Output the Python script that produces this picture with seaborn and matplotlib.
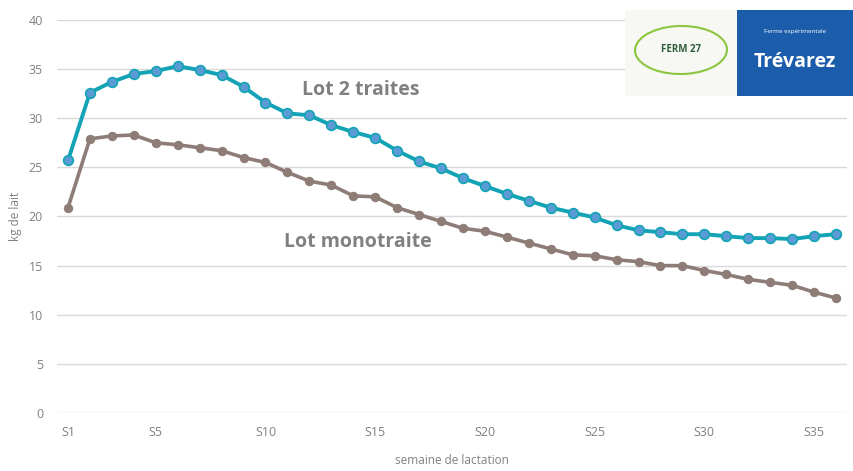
import numpy as np
import pandas as pd
import matplotlib
matplotlib.use('Agg')
import matplotlib.pyplot as plt
import seaborn as sns
from matplotlib.patches import Rectangle, Ellipse

# weekly milk yield (kg)
weeks = [f'S{i}' for i in range(1, 37)]
lot_2_traites = [25.7, 32.6, 33.7, 34.5, 34.8, 35.3, 34.9, 34.4, 33.2, 31.6,
                 30.5, 30.3, 29.3, 28.6, 28.0, 26.7, 25.6, 24.9, 23.9, 23.1,
                 22.3, 21.6, 20.9, 20.4, 19.9, 19.1, 18.6, 18.4, 18.2, 18.2,
                 18.0, 17.8, 17.8, 17.7, 18.0, 18.2]
lot_monotraite = [20.9, 27.9, 28.2, 28.3, 27.5, 27.3, 27.0, 26.7, 26.0, 25.5,
                  24.5, 23.6, 23.2, 22.1, 22.0, 20.9, 20.2, 19.5, 18.8, 18.5,
                  17.9, 17.3, 16.7, 16.1, 16.0, 15.6, 15.4, 15.0, 15.0, 14.5,
                  14.1, 13.6, 13.3, 13.0, 12.3, 11.7]
tick_weeks = ['S1', 'S5', 'S10', 'S15', 'S20', 'S25', 'S30', 'S35']

df = pd.DataFrame({'semaine': np.arange(1, 37),
                   'Lot 2 traites': lot_2_traites,
                   'Lot monotraite': lot_monotraite})

sns.set_style('white')
plt.rcParams['font.family'] = ['Open Sans', 'DejaVu Sans']

fig = plt.figure(figsize=(8.54, 4.71), dpi=100)
ax = fig.add_axes([57 / 854, 58 / 471, 790 / 854, 393 / 471])

teal = '#12A3B5'
brown = '#8E7C77'
grey = '#808080'

sns.lineplot(data=df, x='semaine', y='Lot monotraite', ax=ax, color=brown,
             linewidth=2.6, marker='o', markersize=6, markeredgecolor=brown,
             markerfacecolor=brown, zorder=3)
sns.lineplot(data=df, x='semaine', y='Lot 2 traites', ax=ax, color=teal,
             linewidth=2.8, marker='o', markersize=7, markeredgecolor=teal,
             markeredgewidth=1.2, markerfacecolor='#5B9BD5', zorder=4)

ax.set_xlim(0.5, 36.5)
ax.set_ylim(0, 40)
ax.set_yticks(range(0, 45, 5))
ax.set_xticks([weeks.index(w) + 1 for w in tick_weeks])
ax.set_xticklabels(tick_weeks)
ax.grid(axis='y', color='#D9D9D9', linewidth=1)
ax.set_axisbelow(True)
for s in ax.spines.values():
    s.set_visible(False)
ax.tick_params(axis='both', length=0, labelsize=9, labelcolor=grey)
ax.tick_params(axis='x', pad=9)
ax.tick_params(axis='y', pad=10)
ax.set_xlabel('semaine de lactation', fontsize=8.5, color=grey, labelpad=11)
ax.set_ylabel('kg de lait', fontsize=8.5, color=grey, labelpad=5)

ax.text(11.65, 32.9, 'Lot 2 traites', fontsize=14, fontweight='bold',
        color=grey, va='center', ha='left')
ax.text(10.85, 17.4, 'Lot monotraite', fontsize=14, fontweight='bold',
        color=grey, va='center', ha='left')

# logo
W, H = 854, 471
fig.patches.append(Rectangle((625 / W, 1 - 96 / H), 112 / W, 86 / H,
                             transform=fig.transFigure, facecolor='#F7F7F4',
                             edgecolor='none'))
fig.patches.append(Rectangle((737 / W, 1 - 96 / H), 116 / W, 86 / H,
                             transform=fig.transFigure, facecolor='#1B5DAA',
                             edgecolor='none'))
fig.patches.append(Ellipse((681 / W, 1 - 50 / H), 92 / W, 48 / H, angle=8,
                           transform=fig.transFigure, facecolor='none',
                           edgecolor='#8CC63F', linewidth=1.5))
fig.text(681 / W, 1 - 49 / H, 'FERM 27', fontsize=7, fontweight='bold',
         color='#2E5E3A', ha='center', va='center')
fig.text(795 / W, 1 - 32 / H, 'Ferme expérimentale', fontsize=4.5,
         color='white', ha='center', va='center')
fig.text(795 / W, 1 - 62 / H, 'Trévarez', fontsize=14, fontweight='bold',
         color='white', ha='center', va='center')

fig.savefig('out.png', dpi=100)
